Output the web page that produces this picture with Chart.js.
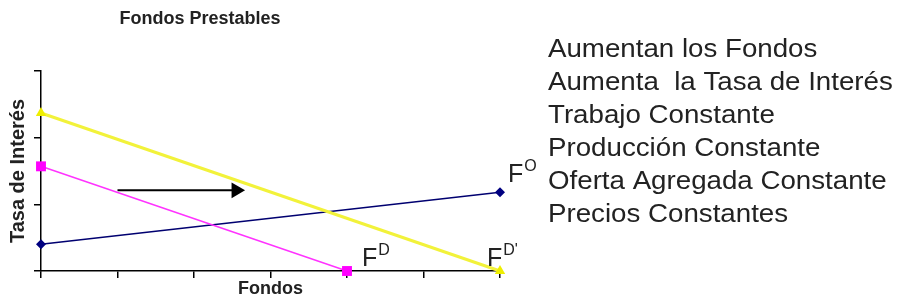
<!DOCTYPE html>
<html>
<head>
<meta charset="utf-8">
<script src="https://cdn.jsdelivr.net/npm/chart.js@4"></script>
<style>
  html, body { margin: 0; padding: 0; background: #fff; }
  #wrap { position: relative; width: 902px; height: 306px; }
</style>
</head>
<body>
<div id="wrap"><canvas id="chart" width="902" height="306"></canvas></div>
<script>
// Values (x = Fondos, y = Tasa de Interés)
const demandaInicial = [{ x: 0, y: 1.57 }, { x: 4, y: 0 }];     // F^D
const demandaNueva = [{ x: 0, y: 2.37 }, { x: 6, y: 0 }];       // F^D'
const oferta = [{ x: 0, y: 0.4 }, { x: 6, y: 1.18 }];           // F^O
const flecha = [{ x: 1, y: 1.21 }, { x: 2.55, y: 1.21 }];
const xTicks = [0, 1, 2, 3, 4, 5, 6];
const yTicks = [0, 1, 2, 3];
const notas = [
    'Aumentan los Fondos',
    'Aumenta  la Tasa de Interés',
    'Trabajo Constante',
    'Producción Constante',
    'Oferta Agregada Constante',
    'Precios Constantes'
];
const etiquetas = [
    { base: 'F', sup: 'O', punto: oferta[1], dx: 8, dy: -10 },
    { base: 'F', sup: 'D', punto: demandaInicial[1], dx: 15, dy: -5 },
    { base: 'F', sup: "D'", punto: demandaNueva[1], dx: -13, dy: -5 }
];

const FONT = '"Liberation Sans", Arial, sans-serif';

// Title, curve labels and the notes on the right
const textPlugin = {
    id: 'textPlugin',
    afterDraw(chart) {
        const ctx = chart.ctx;
        const sx = chart.scales.x, sy = chart.scales.y;
        ctx.save();
        ctx.fillStyle = '#222';
        ctx.textBaseline = 'alphabetic';

        ctx.font = 'bold 18px ' + FONT;
        ctx.textAlign = 'center';
        ctx.fillText('Fondos Prestables', 200, 24);

        ctx.textAlign = 'left';
        etiquetas.forEach(e => {
            const px = sx.getPixelForValue(e.punto.x) + e.dx;
            const py = sy.getPixelForValue(e.punto.y) + e.dy;
            ctx.font = '25px ' + FONT;
            ctx.fillText(e.base, px, py);
            const w = ctx.measureText(e.base).width;
            ctx.font = '16px ' + FONT;
            ctx.fillText(e.sup, px + w + 1, py - 11);
        });

        // the notes are a little wider than the font, as in the picture
        ctx.font = '26px ' + FONT;
        ctx.translate(548, 0);
        ctx.scale(1.065, 1);
        notas.forEach((t, i) => {
            ctx.fillText(t, 0, 57 + i * 33);
        });
        ctx.restore();
    }
};

const ctx = document.getElementById('chart').getContext('2d');
new Chart(ctx, {
    type: 'scatter',
    data: {
        datasets: [
            {
                label: "F D'",
                data: demandaNueva,
                showLine: true,
                borderColor: '#f2f23a',
                backgroundColor: '#eeee00',
                borderWidth: 3,
                pointStyle: 'triangle',
                pointRadius: 6,
                pointBorderWidth: 0
            },
            {
                label: 'F D',
                data: demandaInicial,
                showLine: true,
                borderColor: '#ff33ff',
                backgroundColor: '#ff00ff',
                borderWidth: 1.5,
                pointStyle: 'rect',
                pointRadius: 7,
                pointBorderWidth: 0
            },
            {
                label: 'F O',
                data: oferta,
                showLine: true,
                borderColor: '#000070',
                backgroundColor: '#000080',
                borderWidth: 1.5,
                pointStyle: 'rectRot',
                pointRadius: 5,
                pointBorderWidth: 0
            },
            {
                label: 'flecha',
                data: flecha,
                showLine: true,
                borderColor: '#000',
                backgroundColor: '#000',
                borderWidth: 2,
                pointStyle: 'triangle',
                pointRotation: 90,
                pointRadius: [0, 9],
                pointBorderWidth: 0
            }
        ]
    },
    options: {
        responsive: false,
        animation: false,
        clip: false,
        layout: { padding: { top: 71, right: 402, left: 0, bottom: 0 } },
        plugins: {
            legend: { display: false },
            tooltip: { enabled: false }
        },
        scales: {
            x: {
                type: 'linear',
                min: 0,
                max: 6,
                afterBuildTicks: s => { s.ticks = xTicks.map(v => ({ value: v })); },
                afterFit: s => { s.height = 35; },
                ticks: { display: false },
                grid: { drawOnChartArea: false, drawTicks: true, tickLength: 7, color: '#000', lineWidth: 1.5 },
                border: { display: true, color: '#000', width: 1.5 },
                title: {
                    display: true,
                    text: 'Fondos',
                    color: '#222',
                    font: { family: FONT, size: 18, weight: 'bold' },
                    padding: { top: 0, bottom: 6 }
                }
            },
            y: {
                type: 'linear',
                min: 0,
                max: 3,
                afterBuildTicks: s => { s.ticks = yTicks.map(v => ({ value: v })); },
                afterFit: s => { s.width = 41; },
                ticks: { display: false },
                grid: { drawOnChartArea: false, drawTicks: true, tickLength: 7, color: '#000', lineWidth: 1.5 },
                border: { display: true, color: '#000', width: 1.5 },
                title: {
                    display: true,
                    text: 'Tasa de Interés',
                    color: '#222',
                    font: { family: FONT, size: 20, weight: 'bold' },
                    padding: { top: 6, bottom: 0 }
                }
            }
        }
    },
    plugins: [textPlugin]
});
</script>
</body>
</html>
